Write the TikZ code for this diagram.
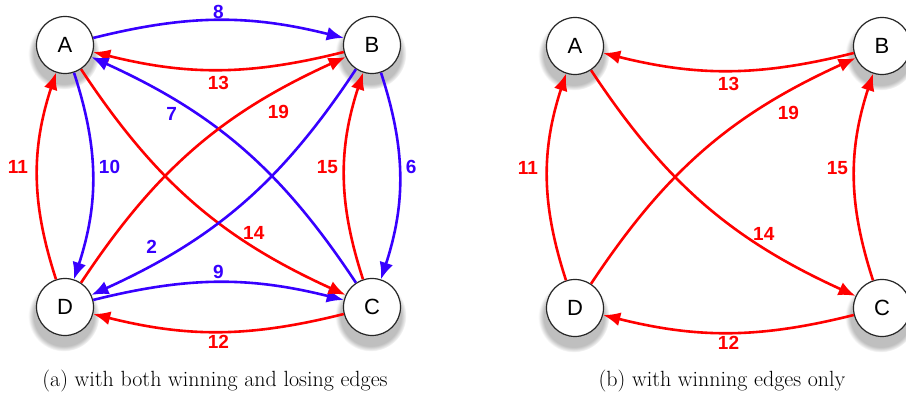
\documentclass[tikz,border=0pt]{standalone}
\usepackage{fontspec}
\newfontfamily\labelfont{Liberation Sans}
\usetikzlibrary{arrows.meta, shadows, fadings}

\definecolor{winred}{RGB}{255,0,0}
\definecolor{loseblue}{RGB}{55,0,255}

\begin{document}
\begin{tikzpicture}[
    x=1pt, y=1pt,
    player/.style={circle, draw=black!85, line width=1.2pt, fill=white, minimum size=57pt, inner sep=0pt,
        font=\labelfont\fontsize{22}{22}\selectfont,
        circular drop shadow={shadow xshift=-1pt, shadow yshift=-7pt, shadow scale=1.25, opacity=0.5}},
    win/.style={color=winred, line width=2.6pt, -{Latex[length=17pt,width=14pt]}},
    lose/.style={color=loseblue, line width=2.6pt, -{Latex[length=17pt,width=14pt]}},
    weight/.style={font=\labelfont\bfseries\fontsize{19}{19}\selectfont, inner sep=2pt},
    side/.style={weight, inner sep=5pt, yshift=9pt},
    caption/.style={font=\fontsize{22}{24}\selectfont}
]
    \useasboundingbox (0,0) rectangle (906,403);

    % Players, all edges
    \node[player] (a1) at (65,358) {A};
    \node[player] (b1) at (372,358) {B};
    \node[player] (c1) at (372,96) {C};
    \node[player] (d1) at (65,96) {D};

    % Players, winning edges
    \node[player] (a2) at (575,357) {A};
    \node[player] (b2) at (882,357) {B};
    \node[player] (c2) at (882,95) {C};
    \node[player] (d2) at (575,95) {D};

    % Edges (a)
    \draw[lose] (a1) to[bend left=14] node[weight, above, inner sep=0pt] {8} (b1);
    \draw[win] (b1) to[bend left=14] node[weight, below, inner sep=5pt] {13} (a1);
    \draw[lose] (a1) to[bend left=18] node[side, right] {10} (d1);
    \draw[win] (d1) to[bend left=18] node[side, left, xshift=-3pt] {11} (a1);
    \draw[lose] (b1) to[bend left=18] node[side, right] {6} (c1);
    \draw[win] (c1) to[bend left=18] node[side, left] {15} (b1);
    \draw[lose] (d1) to[bend left=14] node[weight, above] {9} (c1);
    \draw[win] (c1) to[bend left=14] node[weight, below] {12} (d1);
    \draw[win] (a1) to[bend right=16] node[weight, pos=0.72, above, inner sep=6pt] {14} (c1);
    \draw[lose] (c1) to[bend right=16] node[weight, pos=0.73, below left] {7} (a1);
    \draw[win] (d1) to[bend left=16] node[weight, pos=0.75, below right, inner sep=4pt] {19} (b1);
    \draw[lose] (b1) to[bend left=16] node[weight, pos=0.79, above left, inner sep=4pt] {2} (d1);

    % Edges (b)
    \draw[win] (b2) to[bend left=14] node[weight, below, inner sep=5pt] {13} (a2);
    \draw[win] (d2) to[bend left=18] node[side, left, xshift=-3pt] {11} (a2);
    \draw[win] (c2) to[bend left=18] node[side, left] {15} (b2);
    \draw[win] (c2) to[bend left=14] node[weight, below] {12} (d2);
    \draw[win] (a2) to[bend right=16] node[weight, pos=0.72, above, inner sep=6pt] {14} (c2);
    \draw[win] (d2) to[bend left=16] node[weight, pos=0.75, below right, inner sep=4pt] {19} (b2);

    % Captions
    \node[caption] (capa) at (215,22) {(a) with both winning and losing edges};
    \node[caption] (capb) at (722,22) {(b) with winning edges only};
\end{tikzpicture}
\end{document}
